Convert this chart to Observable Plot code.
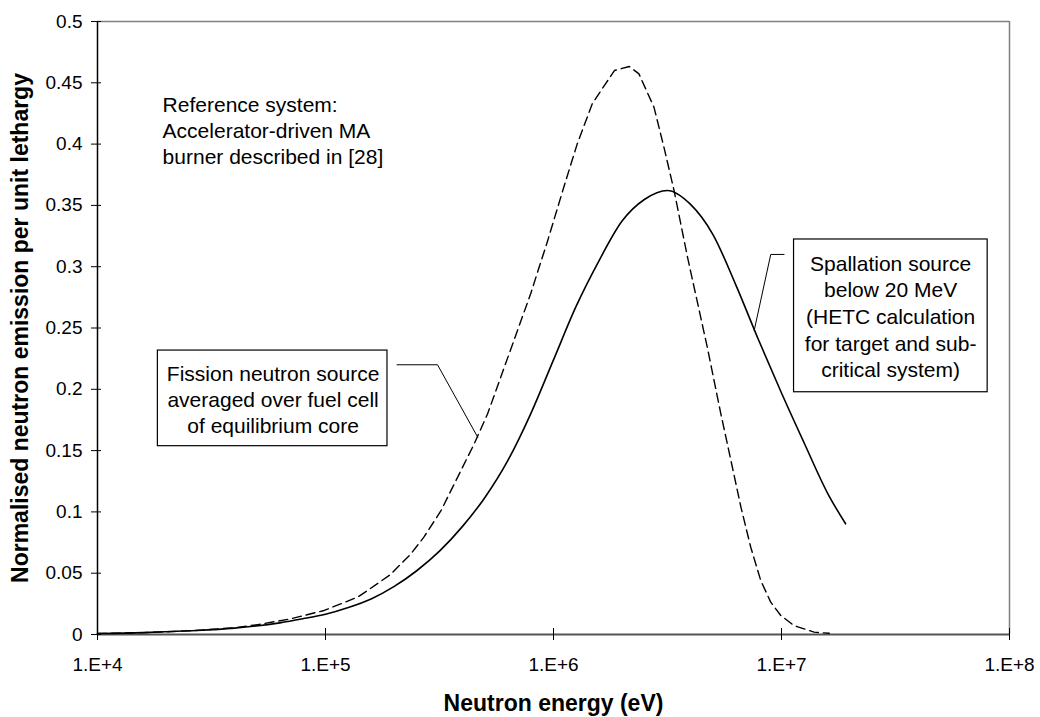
<!DOCTYPE html>
<html><head><meta charset="utf-8">
<script src="https://cdn.jsdelivr.net/npm/d3@7"></script>
<script src="https://cdn.jsdelivr.net/npm/@observablehq/plot@0.6"></script>
<style>body{margin:0;background:#fff} svg{display:block}</style>
</head><body><div id="chart"></div>
<script>
// Fission neutron source (dashed)
const fissionEnergy = [1.0e4, 1.58e4, 2.56e4, 3.98e4, 5.0e4, 7.05e4, 9.86e4, 1.38e5, 1.53e5, 1.93e5, 2.37e5, 2.70e5, 3.21e5, 3.79e5, 4.49e5, 5.14e5, 6.71e5, 7.94e5, 9.42e5, 1.11e6, 1.27e6, 1.48e6, 1.85e6, 2.15e6, 2.37e6, 2.76e6, 3.05e6, 3.38e6, 3.87e6, 4.14e6, 4.73e6, 5.42e6, 6.0e6, 6.64e6, 7.33e6, 8.11e6, 8.97e6, 9.93e6, 1.135e7, 1.39e7, 1.62e7];
const fissionValue = [0.0008, 0.0015, 0.003, 0.0055, 0.0079, 0.0128, 0.0196, 0.0304, 0.0359, 0.049, 0.0658, 0.0794, 0.101, 0.128, 0.1555, 0.18, 0.24, 0.278, 0.321, 0.365, 0.40, 0.433, 0.46, 0.4633, 0.4573, 0.430, 0.3975, 0.362, 0.3078, 0.283, 0.234, 0.18, 0.142, 0.1038, 0.0712, 0.044, 0.0264, 0.0155, 0.0073, 0.0019, 0.001];
// Spallation source below 20 MeV (solid)
const spallationEnergy = [1e4, 1.585e4, 2.512e4, 3.981e4, 6.31e4, 7.943e4, 1e5, 1.259e5, 1.585e5, 1.995e5, 2.512e5, 3.162e5, 3.981e5, 5.012e5, 6.31e5, 7.943e5, 1e6, 1.259e6, 1.585e6, 1.995e6, 2.512e6, 3.162e6, 3.981e6, 5.012e6, 6.31e6, 7.943e6, 1e7, 1.259e7, 1.585e7, 1.91e7];
const spallationValue = [0.0008, 0.0015, 0.003, 0.0052, 0.0095, 0.0128, 0.0165, 0.022, 0.029, 0.039, 0.052, 0.068, 0.088, 0.112, 0.142, 0.18, 0.224, 0.268, 0.305, 0.337, 0.355, 0.3622, 0.351, 0.326, 0.285, 0.240, 0.197, 0.156, 0.116, 0.0903];

const xTicks = [1e4, 1e5, 1e6, 1e7, 1e8];
const xTickLabels = ["1.E+4", "1.E+5", "1.E+6", "1.E+7", "1.E+8"];
const yTicks = [0, 0.05, 0.1, 0.15, 0.2, 0.25, 0.3, 0.35, 0.4, 0.45, 0.5];
const yTickLabels = ["0", "0.05", "0.1", "0.15", "0.2", "0.25", "0.3", "0.35", "0.4", "0.45", "0.5"];

const xTitle = "Neutron energy (eV)";
const yTitle = "Normalised neutron emission per unit lethargy";
const referenceNote = ["Reference system:", "Accelerator-driven MA", "burner described in [28]"];
const fissionNote = ["Fission neutron source", "averaged over fuel cell", "of equilibrium core"];
const spallationNote = ["Spallation source", "below 20 MeV", "(HETC calculation", "for target and sub-", "critical system)"];

const fission = fissionEnergy.map((e, i) => ({e, v: fissionValue[i]}));
const spallation = spallationEnergy.map((e, i) => ({e, v: spallationValue[i]}));

const font = "'Liberation Sans', Arial, Helvetica, sans-serif";
const annot = 21;

const chart = Plot.plot({
  width: 1040,
  height: 717,
  marginLeft: 97,
  marginRight: 31,
  marginTop: 21,
  marginBottom: 83,
  style: {fontFamily: font, background: "#fff", color: "#000"},
  x: {type: "log", domain: [1e4, 1e8], label: null},
  y: {domain: [0, 0.5], label: null},
  marks: [
    // frame
    Plot.ruleY([0.5], {stroke: "#808080", strokeWidth: 1.5}),
    Plot.ruleX([1e8], {stroke: "#808080", strokeWidth: 1.5}),
    Plot.ruleY([0], {stroke: "#555", strokeWidth: 2}),
    Plot.ruleX([1e4], {stroke: "#000", strokeWidth: 1.5}),
    // cross ticks
    Plot.axisY({ticks: yTicks, tickSize: 10, dx: 4, fill: "none", stroke: "#000", label: null}),
    Plot.axisX({ticks: xTicks, tickSize: 12, dy: -6, fill: "none", stroke: "#000", label: null}),
    // tick labels
    Plot.axisY({ticks: yTicks, tickSize: 0, tickPadding: 15, stroke: "none", fontSize: 19, label: null,
      tickFormat: d => yTickLabels[yTicks.indexOf(d)]}),
    Plot.axisX({ticks: xTicks, tickSize: 0, tickPadding: 23, stroke: "none", fontSize: 19, label: null,
      tickFormat: d => xTickLabels[xTicks.indexOf(d)]}),
    // axis titles
    Plot.text([xTitle], {frameAnchor: "bottom", dy: 69, fontSize: 23, fontWeight: "bold", textAnchor: "middle", lineAnchor: "middle"}),
    Plot.text([yTitle], {frameAnchor: "left", rotate: -90, dx: -77, fontSize: 23, fontWeight: "bold", textAnchor: "middle", lineAnchor: "middle"}),
    // curves
    Plot.line(fission, {x: "e", y: "v", stroke: "#000", strokeWidth: 1.4, strokeDasharray: "9,5"}),
    Plot.line(spallation, {x: "e", y: "v", stroke: "#000", strokeWidth: 1.6, curve: "monotone-x"}),
    // reference note
    Plot.text([referenceNote.join("\n")], {x: 1.93e4, y: 0.4117, textAnchor: "start", lineAnchor: "middle", fontSize: annot, lineHeight: 1.25}),
    // fission callout
    Plot.line([{e: 2.06e5, v: 0.22}, {e: 3.10e5, v: 0.22}, {e: 4.65e5, v: 0.161}], {x: "e", y: "v", stroke: "#000", strokeWidth: 1}),
    Plot.rect([{x1: 1.84e4, x2: 1.87e5, y1: 0.1536, y2: 0.2316}], {x1: "x1", x2: "x2", y1: "y1", y2: "y2", fill: "#fff", stroke: "#000", strokeWidth: 1.2}),
    Plot.text([fissionNote.join("\n")], {x: 5.89e4, y: 0.1923, textAnchor: "middle", lineAnchor: "middle", fontSize: annot, lineHeight: 1.24}),
    // spallation callout
    Plot.line([{e: 1.026e7, v: 0.31}, {e: 8.97e6, v: 0.31}, {e: 7.59e6, v: 0.248}], {x: "e", y: "v", stroke: "#000", strokeWidth: 1}),
    Plot.rect([{x1: 1.135e7, x2: 8.02e7, y1: 0.1976, y2: 0.3222}], {x1: "x1", x2: "x2", y1: "y1", y2: "y2", fill: "#fff", stroke: "#000", strokeWidth: 1.2}),
    Plot.text([spallationNote.join("\n")], {x: 3.01e7, y: 0.2602, textAnchor: "middle", lineAnchor: "middle", fontSize: annot, lineHeight: 1.27})
  ]
});
document.getElementById("chart").appendChild(chart);
</script>
</body></html>
